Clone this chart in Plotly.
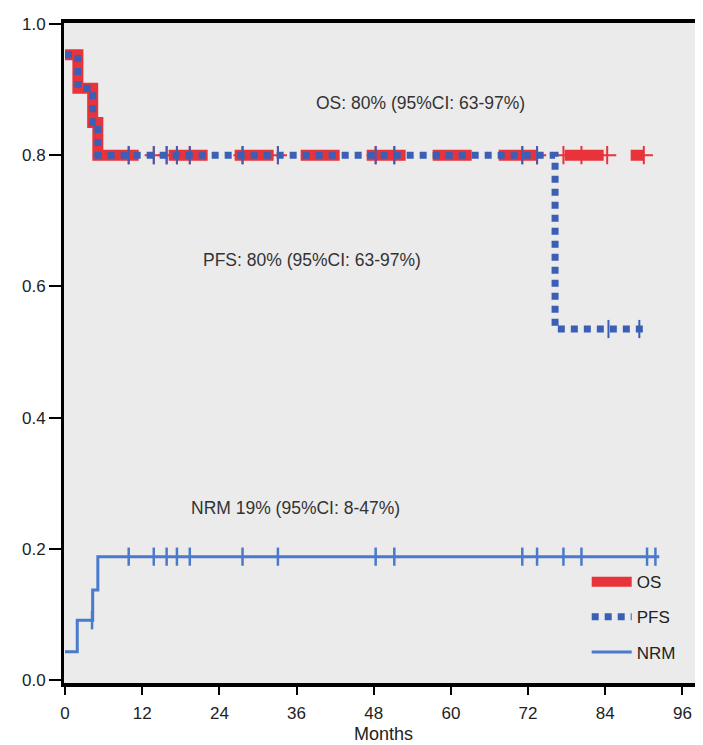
import numpy as np
import plotly.graph_objects as go

# ---- data ----
os_t = [0, 2.0, 4.3, 5.1, 90.0]
os_s = [0.953, 0.902, 0.85, 0.80, 0.80]
os_cens = [9.9, 13.8, 15.8, 17.4, 19.4, 27.6, 33.1, 48.3, 51.2, 71.1, 73.4,
           77.5, 80.3, 84.3, 90.0]

pfs_t = [0, 2.0, 4.3, 5.1, 76.2, 90.0]
pfs_s = [0.953, 0.902, 0.85, 0.80, 0.535, 0.535]
pfs_cens = [9.9, 13.8, 15.8, 17.4, 19.4, 27.6, 33.1, 48.3, 51.2, 71.1, 73.4,
            84.5, 89.3]

nrm_t = [0, 1.9, 4.3, 5.1, 92.4]
nrm_v = [0.043, 0.091, 0.137, 0.188, 0.188]
nrm_cens = [4.2, 9.9, 13.8, 15.8, 17.4, 19.4, 27.6, 33.1, 48.3, 51.2, 71.1,
            73.4, 77.5, 80.3, 90.5, 91.8]

x_ticks = [0, 12, 24, 36, 48, 60, 72, 84, 96]
y_ticks = [0.0, 0.2, 0.4, 0.6, 0.8, 1.0]

labels = {
    "os": "OS: 80% (95%CI: 63-97%)",
    "pfs": "PFS: 80% (95%CI: 63-97%)",
    "nrm": "NRM 19% (95%CI: 8-47%)",
}


def step_at(ts, vs, x):
    idx = np.searchsorted(np.array(ts), np.array(x), side="right") - 1
    return [vs[i] for i in idx]


RED = "#e8333b"
BLUE = "#3a5fb5"
NRMC = "#4a7acb"

fig = go.Figure()

os_dash = "174px,30px," + ",".join(["39px,27px"] * 10)

fig.add_trace(go.Scatter(x=os_t, y=os_s, mode="lines", line_shape="hv",
                         line=dict(color=RED, width=11, dash=os_dash),
                         name="OS", legendgroup="os"))
fig.add_trace(go.Scatter(x=os_cens, y=step_at(os_t, os_s, os_cens), mode="markers",
                         marker=dict(symbol="cross-thin", size=13,
                                     line=dict(color=RED, width=2)),
                         showlegend=False, hoverinfo="skip"))

fig.add_trace(go.Scatter(x=pfs_t, y=pfs_s, mode="lines", line_shape="hv",
                         line=dict(color=BLUE, width=7, dash="7px,6px"),
                         name="PFS", legendgroup="pfs"))
fig.add_trace(go.Scatter(x=pfs_cens, y=step_at(pfs_t, pfs_s, pfs_cens), mode="markers",
                         marker=dict(symbol="line-ns", size=13,
                                     line=dict(color=BLUE, width=2)),
                         showlegend=False, hoverinfo="skip"))

fig.add_trace(go.Scatter(x=nrm_t, y=nrm_v, mode="lines", line_shape="hv",
                         line=dict(color=NRMC, width=3),
                         name="NRM", legendgroup="nrm"))
fig.add_trace(go.Scatter(x=nrm_cens, y=step_at(nrm_t, nrm_v, nrm_cens), mode="markers",
                         marker=dict(symbol="line-ns", size=13,
                                     line=dict(color=NRMC, width=2.5)),
                         showlegend=False, hoverinfo="skip"))

ann_font = dict(family="Liberation Sans, Arial, sans-serif", size=17.5, color="#333")
fig.add_annotation(x=55.2, y=0.88, text=labels["os"], showarrow=False, font=ann_font)
fig.add_annotation(x=38.4, y=0.64, text=labels["pfs"], showarrow=False, font=ann_font)
fig.add_annotation(x=35.8, y=0.262, text=labels["nrm"], showarrow=False, font=ann_font)

# the page body adds an 8px offset; margins and size compensate for it
fig.update_layout(
    width=695, height=737,
    margin=dict(l=56, r=0, t=15, b=62, autoexpand=False),
    paper_bgcolor="white", plot_bgcolor="#ebebeb",
    font=dict(family="Liberation Sans, Arial, sans-serif", size=17, color="#222"),
    showlegend=True,
    legend=dict(x=0.818, y=0.18, xanchor="left", yanchor="top",
                bgcolor="rgba(0,0,0,0)", tracegroupgap=10, itemwidth=40,
                font=dict(size=17, color="#222")),
)
fig.update_xaxes(range=[-0.16, 99.2], tickvals=x_ticks, ticks="outside", ticklen=8,
                 tickwidth=1.5, tickcolor="black", showline=True, linewidth=4,
                 linecolor="black", mirror=True, showgrid=False, zeroline=False,
                 ticklabelstandoff=4,
                 title=dict(text="Months", font=dict(size=18), standoff=6))
fig.update_yaxes(range=[-0.0046, 1.0015], tickvals=y_ticks, tickformat=".1f",
                 ticks="outside", ticklen=12, tickwidth=1.5, tickcolor="black",
                 showline=True, linewidth=3, linecolor="black", showgrid=False,
                 zeroline=False)

fig.write_html("out.html")
